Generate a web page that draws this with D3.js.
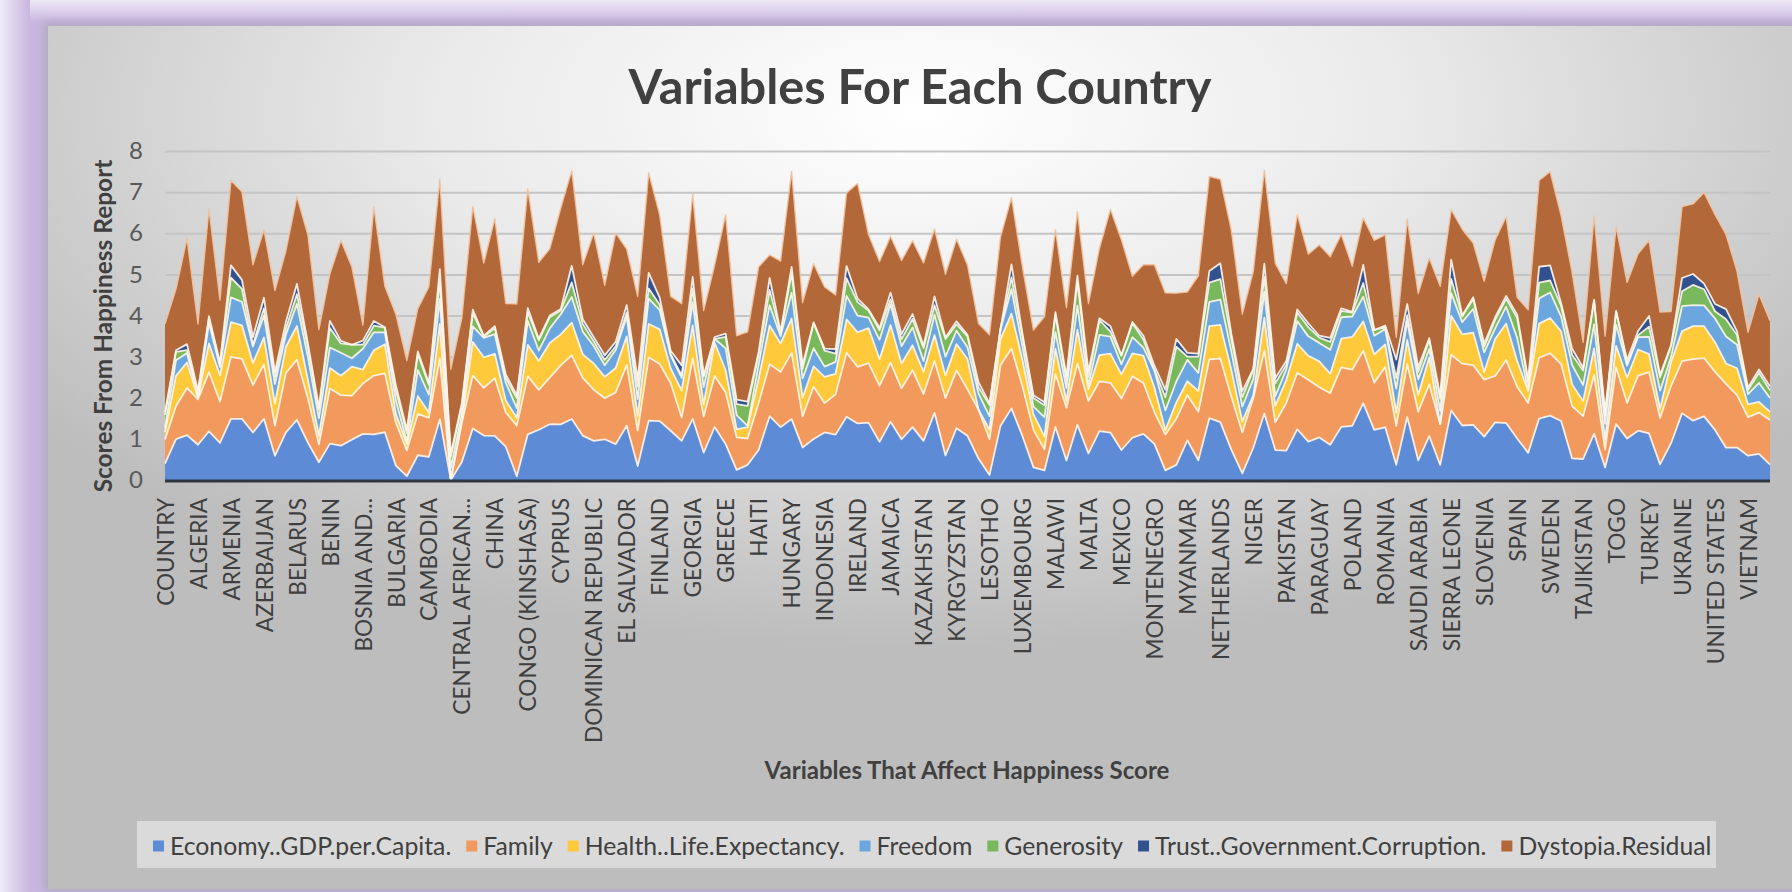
<!DOCTYPE html>
<html><head><meta charset="utf-8">
<script src="https://cdn.jsdelivr.net/npm/d3@7"></script>
<style>html,body{margin:0;padding:0;background:#fff;overflow:hidden}svg{display:block}</style>
</head><body>
<svg id="c" width="1792" height="892"></svg>
<script>
const categories = ["COUNTRY","AFGHANISTAN","ALBANIA","ALGERIA","ANGOLA","ARGENTINA","ARMENIA","AUSTRALIA","AUSTRIA","AZERBAIJAN","BAHRAIN","BANGLADESH","BELARUS","BELGIUM","BELIZE","BENIN","BHUTAN","BOLIVIA","BOSNIA AND HERZEGOVINA","BOTSWANA","BRAZIL","BULGARIA","BURKINA FASO","BURUNDI","CAMBODIA","CAMEROON","CANADA","CENTRAL AFRICAN REPUBLIC","CHAD","CHILE","CHINA","COLOMBIA","CONGO (BRAZZAVILLE)","CONGO (KINSHASA)","COSTA RICA","CROATIA","CYPRUS","CZECH REPUBLIC","DENMARK","DOMINICAN REPUBLIC","ECUADOR","EGYPT","EL SALVADOR","ESTONIA","ETHIOPIA","FINLAND","FRANCE","GABON","GEORGIA","GERMANY","GHANA","GREECE","GUATEMALA","GUINEA","HAITI","HONDURAS","HONG KONG","HUNGARY","ICELAND","INDIA","INDONESIA","IRAN","IRAQ","IRELAND","ISRAEL","ITALY","JAMAICA","JAPAN","JORDAN","KAZAKHSTAN","KOSOVO","KUWAIT","KYRGYZSTAN","LATVIA","LEBANON","LESOTHO","LIBERIA","LITHUANIA","LUXEMBOURG","MACEDONIA","MADAGASCAR","MALAWI","MALAYSIA","MALI","MALTA","MAURITANIA","MAURITIUS","MEXICO","MOLDOVA","MONGOLIA","MONTENEGRO","MOROCCO","MOZAMBIQUE","MYANMAR","NAMIBIA","NEPAL","NETHERLANDS","NEW ZEALAND","NICARAGUA","NIGER","NIGERIA","NORWAY","PAKISTAN","PALESTINIAN TERRITORIES","PANAMA","PARAGUAY","PERU","PHILIPPINES","POLAND","PORTUGAL","QATAR","ROMANIA","RUSSIA","RWANDA","SAUDI ARABIA","SENEGAL","SERBIA","SIERRA LEONE","SINGAPORE","SLOVAKIA","SLOVENIA","SOUTH AFRICA","SOUTH KOREA","SPAIN","SRI LANKA","SUDAN","SWEDEN","SWITZERLAND","TAIWAN","TAJIKISTAN","TANZANIA","THAILAND","TOGO","TRINIDAD AND TOBAGO","TUNISIA","TURKEY","TURKMENISTAN","UGANDA","UKRAINE","UNITED ARAB EMIRATES","UNITED KINGDOM","UNITED STATES","URUGUAY","UZBEKISTAN","VIETNAM","YEMEN","ZAMBIA"];

const economy = [0.401,0.996,1.092,0.858,1.185,0.901,1.484,1.487,1.154,1.488,0.587,1.157,1.464,0.908,0.431,0.885,0.834,0.982,1.122,1.107,1.161,0.350,0.092,0.602,0.564,1.479,0.000,0.438,1.253,1.081,1.071,0.809,0.092,1.110,1.223,1.356,1.353,1.482,1.079,0.952,0.990,0.872,1.321,0.339,1.444,1.431,1.198,0.951,1.488,0.667,1.289,0.872,0.245,0.369,0.731,1.552,1.286,1.481,0.792,0.996,1.157,1.103,1.536,1.375,1.395,0.926,1.417,0.991,1.285,0.951,1.633,0.596,1.261,1.075,0.521,0.119,1.315,1.742,1.065,0.306,0.233,1.291,0.476,1.343,0.648,1.189,1.153,0.729,1.027,1.121,0.878,0.234,0.367,0.964,0.480,1.504,1.406,0.737,0.162,0.784,1.616,0.727,0.716,1.234,0.933,1.035,0.858,1.292,1.315,1.871,1.218,1.282,0.369,1.531,0.479,1.069,0.369,1.692,1.325,1.341,1.055,1.402,1.384,1.010,0.660,1.494,1.565,1.434,0.525,0.511,1.128,0.305,1.361,1.007,1.198,1.131,0.381,0.895,1.626,1.442,1.546,1.218,0.786,0.789,0.592,0.636,0.376];
const family = [0.582,0.804,1.146,1.104,1.440,1.007,1.510,1.460,1.152,1.323,0.735,1.445,1.462,1.081,0.435,1.340,1.228,1.069,1.222,1.431,1.434,1.043,0.630,1.006,0.946,1.481,0.000,0.954,1.284,1.161,1.402,0.832,1.229,1.416,0.968,1.131,1.434,1.551,1.402,1.243,0.997,1.256,1.477,0.865,1.540,1.388,1.156,0.571,1.473,0.874,1.239,1.256,0.791,0.640,1.144,1.263,1.343,1.611,0.754,1.274,0.712,0.979,1.558,1.376,1.445,1.368,1.436,1.239,1.384,1.138,1.260,1.394,1.405,1.130,1.190,0.872,1.474,1.458,1.208,0.913,0.513,1.285,1.281,1.488,1.272,1.210,1.211,1.252,1.493,1.238,0.775,0.871,1.123,1.098,1.179,1.429,1.548,1.287,0.993,1.216,1.534,0.673,1.156,1.373,1.507,1.219,1.254,1.446,1.367,1.274,1.150,1.469,0.946,1.287,1.180,1.258,0.984,1.354,1.505,1.453,1.385,1.128,1.532,1.260,1.214,1.478,1.517,1.385,1.271,1.042,1.426,0.432,1.380,0.868,1.338,1.493,1.130,1.395,1.266,1.496,1.420,1.412,1.549,1.277,0.935,1.003,1.083];
const health = [0.181,0.731,0.618,0.050,0.695,0.638,0.844,0.815,0.541,0.653,0.533,0.638,0.818,0.450,0.210,0.496,0.474,0.705,0.342,0.617,0.708,0.216,0.152,0.430,0.133,0.835,0.019,0.041,0.819,0.741,0.595,0.290,0.191,0.760,0.701,0.845,0.754,0.793,0.575,0.637,0.520,0.596,0.695,0.353,0.809,0.844,0.357,0.650,0.799,0.296,0.810,0.540,0.194,0.277,0.583,0.943,0.688,0.834,0.455,0.492,0.639,0.501,0.810,0.838,0.853,0.641,0.913,0.605,0.606,0.541,0.632,0.553,0.639,0.735,0.000,0.230,0.629,0.845,0.645,0.375,0.315,0.619,0.169,0.822,0.285,0.638,0.710,0.589,0.558,0.667,0.598,0.107,0.398,0.339,0.505,0.811,0.817,0.653,0.269,0.057,0.797,0.402,0.566,0.706,0.579,0.630,0.468,0.699,0.796,0.710,0.685,0.547,0.326,0.590,0.409,0.651,0.006,0.949,0.713,0.791,0.187,0.900,0.889,0.625,0.291,0.831,0.858,0.794,0.529,0.365,0.647,0.247,0.520,0.613,0.638,0.438,0.218,0.576,0.727,0.805,0.774,0.719,0.498,0.652,0.310,0.258,0.197];
const freedom = [0.106,0.381,0.233,0.000,0.495,0.198,0.602,0.568,0.398,0.537,0.478,0.295,0.540,0.548,0.426,0.502,0.559,0.204,0.505,0.437,0.289,0.324,0.060,0.633,0.430,0.611,0.271,0.162,0.377,0.473,0.477,0.435,0.236,0.580,0.256,0.355,0.491,0.626,0.553,0.426,0.282,0.437,0.479,0.409,0.618,0.470,0.312,0.309,0.563,0.423,0.096,0.531,0.349,0.030,0.348,0.491,0.176,0.627,0.470,0.443,0.249,0.289,0.573,0.406,0.256,0.474,0.506,0.418,0.437,0.260,0.496,0.455,0.326,0.289,0.391,0.333,0.234,0.597,0.326,0.189,0.467,0.402,0.307,0.589,0.096,0.491,0.413,0.241,0.394,0.195,0.408,0.481,0.514,0.520,0.440,0.585,0.614,0.448,0.364,0.395,0.635,0.235,0.254,0.550,0.474,0.450,0.585,0.520,0.498,0.604,0.457,0.374,0.582,0.450,0.378,0.209,0.319,0.550,0.296,0.573,0.479,0.258,0.409,0.561,0.015,0.613,0.620,0.361,0.472,0.390,0.580,0.380,0.519,0.290,0.301,0.418,0.443,0.123,0.608,0.508,0.506,0.579,0.658,0.571,0.249,0.462,0.336];
const generosity = [0.312,0.201,0.069,0.098,0.109,0.083,0.478,0.316,0.045,0.173,0.172,0.155,0.232,0.240,0.208,0.474,0.226,0.329,0.099,0.162,0.113,0.251,0.204,0.386,0.236,0.436,0.281,0.216,0.327,0.029,0.149,0.121,0.246,0.215,0.248,0.271,0.088,0.355,0.187,0.116,0.129,0.091,0.099,0.313,0.245,0.130,0.044,0.054,0.336,0.257,0.000,0.283,0.265,0.489,0.236,0.374,0.078,0.476,0.232,0.612,0.387,0.200,0.428,0.330,0.173,0.233,0.121,0.172,0.202,0.320,0.228,0.429,0.153,0.264,0.157,0.267,0.010,0.283,0.254,0.209,0.287,0.417,0.183,0.575,0.202,0.361,0.121,0.209,0.338,0.198,0.032,0.322,0.838,0.077,0.394,0.470,0.500,0.302,0.229,0.231,0.362,0.315,0.114,0.211,0.224,0.127,0.194,0.158,0.095,0.330,0.134,0.052,0.253,0.148,0.183,0.220,0.293,0.346,0.137,0.243,0.139,0.207,0.190,0.491,0.182,0.385,0.291,0.258,0.249,0.354,0.572,0.197,0.325,0.050,0.047,0.250,0.326,0.270,0.361,0.493,0.393,0.175,0.416,0.235,0.104,0.250,0.189];
const trust = [0.061,0.040,0.146,0.070,0.060,0.027,0.301,0.221,0.181,0.257,0.124,0.156,0.251,0.097,0.061,0.173,0.060,0.000,0.099,0.111,0.011,0.120,0.084,0.068,0.051,0.287,0.057,0.054,0.082,0.023,0.047,0.080,0.060,0.100,0.043,0.041,0.037,0.401,0.114,0.098,0.114,0.109,0.183,0.165,0.383,0.173,0.076,0.252,0.277,0.025,0.043,0.077,0.111,0.100,0.073,0.294,0.037,0.154,0.092,0.015,0.049,0.108,0.298,0.085,0.028,0.053,0.164,0.120,0.119,0.057,0.215,0.039,0.074,0.037,0.119,0.039,0.012,0.319,0.060,0.067,0.073,0.066,0.105,0.153,0.137,0.042,0.133,0.010,0.033,0.088,0.088,0.179,0.189,0.093,0.073,0.283,0.383,0.131,0.139,0.026,0.316,0.124,0.089,0.071,0.091,0.047,0.099,0.059,0.016,0.439,0.004,0.033,0.455,0.273,0.115,0.041,0.071,0.464,0.024,0.045,0.073,0.063,0.071,0.074,0.090,0.384,0.367,0.064,0.146,0.066,0.032,0.096,0.009,0.087,0.100,0.260,0.057,0.023,0.324,0.265,0.136,0.178,0.247,0.088,0.057,0.078,0.095];
const dystopia = [2.151,1.490,2.568,1.614,2.614,1.521,2.065,2.139,1.762,1.656,1.979,1.723,2.124,2.632,1.886,1.140,2.443,1.892,0.378,2.769,0.996,1.727,1.683,1.043,2.334,2.187,2.066,2.071,2.510,1.765,2.616,1.724,2.225,2.899,1.854,1.621,2.452,2.314,1.321,2.534,1.702,2.642,1.358,2.016,2.430,2.006,1.323,1.501,2.016,1.578,1.749,2.894,1.552,1.697,2.066,0.555,1.716,2.323,1.519,1.429,1.499,1.319,1.774,2.802,1.814,1.616,1.364,1.791,1.785,2.011,1.640,1.537,1.994,1.695,1.430,1.673,2.228,1.620,1.618,1.585,2.083,2.004,1.668,1.557,1.652,1.698,2.837,2.809,1.111,1.729,2.456,2.356,1.115,1.482,1.891,2.295,2.046,2.514,1.874,2.365,2.277,2.792,1.880,2.307,1.685,2.207,1.973,1.797,1.107,1.145,2.177,2.206,0.540,2.065,1.790,1.947,2.668,1.216,2.098,1.313,1.511,1.880,1.928,0.419,1.687,2.098,2.277,2.127,1.849,0.621,2.040,1.837,2.053,1.890,1.879,1.833,1.526,0.814,1.735,1.704,2.218,2.172,1.817,1.462,1.346,1.827,1.598];

const seriesNames = ["Economy..GDP.per.Capita.","Family","Health..Life.Expectancy.","Freedom","Generosity","Trust..Government.Corruption.","Dystopia.Residual"];
const seriesValues = [economy,family,health,freedom,generosity,trust,dystopia];
const seriesColors = ["#5E8BD6","#F29A5E","#FFC93C","#6BA7DE","#79B85D","#32528F","#B3683A"];
const yTicks = [0,1,2,3,4,5,6,7,8];
const titleText = "Variables For Each Country";
const yTitleText = "Scores From Happiness Report";
const xTitleText = "Variables That Affect Happiness Score";

const W = 1792, H = 892;
const FONT = "Lato, 'Open Sans', sans-serif";
const svg = d3.select("#c");
const defs = svg.append("defs");

const gTop = defs.append("linearGradient").attr("id","gTop").attr("x1",0).attr("y1",0).attr("x2",0).attr("y2",1);
gTop.append("stop").attr("offset",0).attr("stop-color","#EFEAF6");
gTop.append("stop").attr("offset",1).attr("stop-color","#C8B6E0");
const gLeft = defs.append("linearGradient").attr("id","gLeft").attr("x1",0).attr("y1",0).attr("x2",1).attr("y2",0);
gLeft.append("stop").attr("offset",0).attr("stop-color","#EFEAF6");
gLeft.append("stop").attr("offset",1).attr("stop-color","#C8B6E0");
const gCard = defs.append("radialGradient").attr("id","gCard").attr("cx",0.5).attr("cy",0.1).attr("r",0.62);
gCard.append("stop").attr("offset",0).attr("stop-color","#FFFFFF");
gCard.append("stop").attr("offset",0.45).attr("stop-color","#EAEAEA");
gCard.append("stop").attr("offset",1).attr("stop-color","#BDBDBD");
const blur = defs.append("filter").attr("id","sh").attr("x","-5%").attr("y","-5%").attr("width","110%").attr("height","110%");
blur.append("feGaussianBlur").attr("stdDeviation",4);

svg.append("rect").attr("width",W).attr("height",H).attr("fill","#C8B6E0");
svg.append("rect").attr("width",W).attr("height",22).attr("fill","url(#gTop)");
svg.append("rect").attr("width",30).attr("height",H).attr("fill","url(#gLeft)");
svg.append("rect").attr("x",44).attr("y",22).attr("width",W).attr("height",870).attr("fill","#9E9AA8").attr("opacity",0.5).attr("filter","url(#sh)");
svg.append("rect").attr("x",48).attr("y",26).attr("width",W-48).attr("height",863).attr("fill","url(#gCard)");

const left = 165, right = 1770, y0px = 480, y8px = 151;
const x = d3.scalePoint().domain(categories).range([left, right]);
const y = d3.scaleLinear().domain([0,8]).range([y0px, y8px]);

const grid = svg.append("g").attr("transform",`translate(${left},0)`)
  .call(d3.axisLeft(y).tickValues(yTicks.slice(1)).tickSize(-(right-left)).tickFormat(""));
grid.select(".domain").remove();
grid.selectAll("line").attr("stroke","#C4C4C4").attr("stroke-width",2);

const rows = categories.map((c,i)=>{ const r={cat:c}; seriesNames.forEach((s,k)=>r[s]=seriesValues[k][i]); return r; });
const stack = d3.stack().keys(seriesNames)(rows);
const area = d3.area().x(d=>x(d.data.cat)).y0(d=>y(d[0])).y1(d=>y(d[1]));
const topLine = d3.line().x(d=>x(d.data.cat)).y(d=>y(d[1]));
const gA = svg.append("g");
gA.selectAll("path.a").data(stack).join("path").attr("class","a")
  .attr("d",area).attr("fill",(d,i)=>seriesColors[i]);
gA.selectAll("path.l").data(stack).join("path").attr("class","l")
  .attr("d",topLine).attr("fill","none")
  .attr("stroke",(d,i)=> i===6 ? "#F3C3A0" : "#FFF6EC")
  .attr("stroke-width",(d,i)=> i===6 ? 1.4 : 1.8)
  .attr("stroke-opacity",0.9).attr("stroke-linejoin","round");

svg.append("line").attr("x1",left).attr("x2",right).attr("y1",y0px+1).attr("y2",y0px+1)
  .attr("stroke","#2E3644").attr("stroke-width",3);

const yAx = svg.append("g").attr("transform",`translate(${left},0)`)
  .call(d3.axisLeft(y).tickValues(yTicks).tickSize(0).tickPadding(22).tickFormat(d3.format("d")));
yAx.select(".domain").remove();
yAx.selectAll("text").attr("font-family",FONT).attr("font-size",24).attr("fill","#595959");

function shortLabel(s){
  if (s.length <= 19) return s;
  const words = s.split(" "); let out = "";
  for (const w of words){ const t = out ? out+" "+w : w; if (t.length > 16) break; out = t; }
  return out + "...";
}
const probe = svg.append("text").attr("font-family",FONT).attr("font-size",22).text("DOMINICAN REPUBLIC");
const xfs = 22 * 245 / probe.node().getComputedTextLength();
probe.remove();
const xAx = svg.append("g").attr("transform",`translate(0,${y0px})`)
  .call(d3.axisBottom(x).tickValues(categories.filter((d,i)=>i%3===0)).tickSize(0).tickFormat(shortLabel));
xAx.select(".domain").remove();
xAx.selectAll("text").attr("font-family",FONT).attr("font-size",xfs).attr("fill","#3F3F3F")
  .attr("transform","rotate(-90)").attr("text-anchor","end")
  .attr("x",-18).attr("y",0).attr("dy","0.36em");

function fit(sel, target){
  const w = sel.node().getComputedTextLength();
  const fs = parseFloat(sel.attr("font-size"));
  sel.attr("font-size", fs*target/w);
}
const t = svg.append("text").attr("x",920).attr("y",104).attr("text-anchor","middle")
  .attr("font-family",FONT).attr("font-weight",700).attr("font-size",40).attr("fill","#404040").text(titleText);
fit(t,583);
const yt = svg.append("text").attr("transform","translate(112,326) rotate(-90)").attr("text-anchor","middle")
  .attr("font-family",FONT).attr("font-weight",700).attr("font-size",20).attr("fill","#404040").text(yTitleText);
fit(yt,333);
const xt = svg.append("text").attr("x",967).attr("y",779).attr("text-anchor","middle")
  .attr("font-family",FONT).attr("font-weight",700).attr("font-size",20).attr("fill","#404040").text(xTitleText);
fit(xt,405);

svg.append("rect").attr("x",137).attr("y",821).attr("width",1579).attr("height",47)
  .attr("fill","#F2F2F2").attr("opacity",0.55);
const lg = svg.append("g");
const items = lg.selectAll("g").data(seriesNames).join("g");
items.append("rect").attr("width",11).attr("height",11).attr("y",-5.5).attr("fill",(d,i)=>seriesColors[i]);
const lt = items.append("text").attr("font-family",FONT).attr("font-size",20).attr("fill","#404040")
  .attr("dy","0.35em").text(d=>d);
let tw = 0; lt.each(function(){ tw += this.getComputedTextLength(); });
const mk = 11, gap1 = 6, gap2 = 15;
const avail = (1712-170) - 6*(mk+gap1) - 6*gap2;
const lfs = 20*avail/tw;
lt.attr("font-size",lfs);
let cx = 170 - gap1 - mk;
items.each(function(){
  const g = d3.select(this);
  g.attr("transform",`translate(${cx},846)`);
  g.select("text").attr("x",mk+gap1);
  cx += mk + gap1 + g.select("text").node().getComputedTextLength() + gap2;
});
</script>
</body></html>
